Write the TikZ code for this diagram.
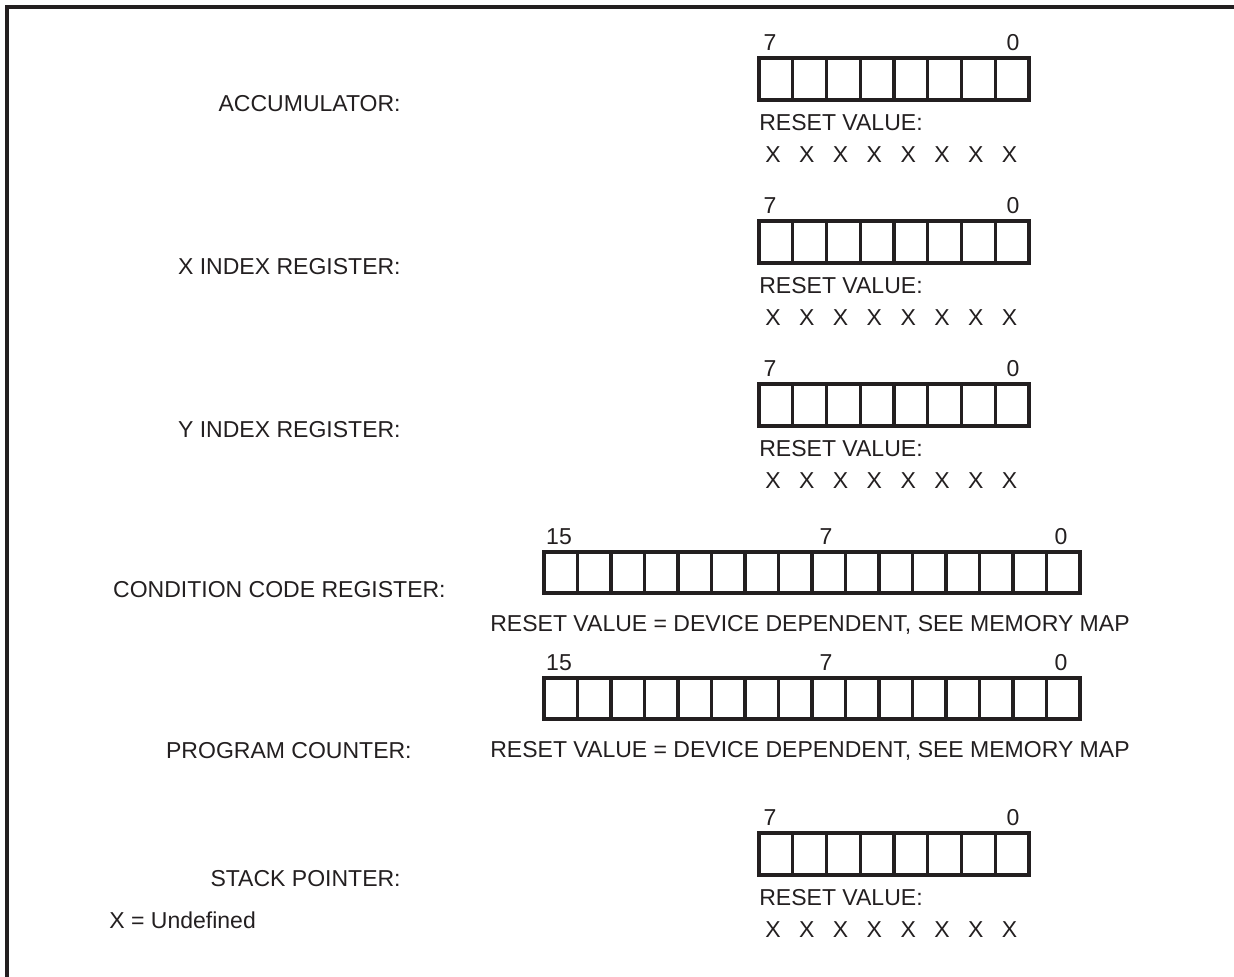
\documentclass[tikz,border=0pt]{standalone}
\usepackage{fontspec}
\setmainfont{Liberation Sans}
\usetikzlibrary{positioning}
\definecolor{ink}{HTML}{231F20}

\tikzset{
  txt/.style={font=\fontsize{13.1}{15}\selectfont, text=ink, inner sep=0pt},
  reglabel/.style={txt, anchor=east},
  cellline/.style={draw=ink, line width=1.9pt},
}

\begin{document}
\begin{tikzpicture}[x=0.02cm, y=-0.02cm]
	\useasboundingbox (0,0) rectangle (1234,977);
	\draw[draw=ink, line width=1.8pt] (7,977) -- (7,7) -- (1234,7);
	% 8 bit registers
	\foreach \rname/\ytop/\lab in {acc/58/ACCUMULATOR:, xreg/221/X INDEX REGISTER:, yreg/384/Y INDEX REGISTER:, sp/833/STACK POINTER:}
	{
		\draw[cellline] (759,\ytop) rectangle (1029,\ytop+42);
		\foreach \i in {1,...,7}
			\draw[cellline] ({759+33.75*\i},\ytop) -- ++(0,42);
		\node[txt] (\rname-hi) at (770,\ytop-15) {7};
		\node[txt] (\rname-lo) at (1013,\ytop-15) {0};
		\node[txt, anchor=west] (\rname-rst) at (759,\ytop+65) {RESET VALUE:};
		\foreach \i in {0,...,7}
			\node[txt] (\rname-x\i) at ({773+33.8*\i},\ytop+97) {X};
		\node[reglabel] (\rname-lab) at (401,\ytop+46) {\lab};
	}
	% 16 bit registers
	\foreach \rname/\ytop/\lab/\labx/\laby in {ccr/552/CONDITION CODE REGISTER:/446/590, pc/678/PROGRAM COUNTER:/412/751}
	{
		\draw[cellline] (544,\ytop) rectangle (1080,\ytop+41);
		\foreach \i in {1,...,15}
			\draw[cellline] ({544+33.5*\i},\ytop) -- ++(0,41);
		\node[txt] (\rname-hi) at (559,\ytop-15) {15};
		\node[txt] (\rname-mid) at (826,\ytop-15) {7};
		\node[txt] (\rname-lo) at (1061,\ytop-15) {0};
		\node[txt] (\rname-rst) at (810,\ytop+73) {RESET VALUE = DEVICE DEPENDENT, SEE MEMORY MAP};
		\node[reglabel] (\rname-lab) at (\labx,\laby) {\lab};
	}
	\node[txt, anchor=west] (undef) at (109,920) {X = Undefined};
\end{tikzpicture}
\end{document}
